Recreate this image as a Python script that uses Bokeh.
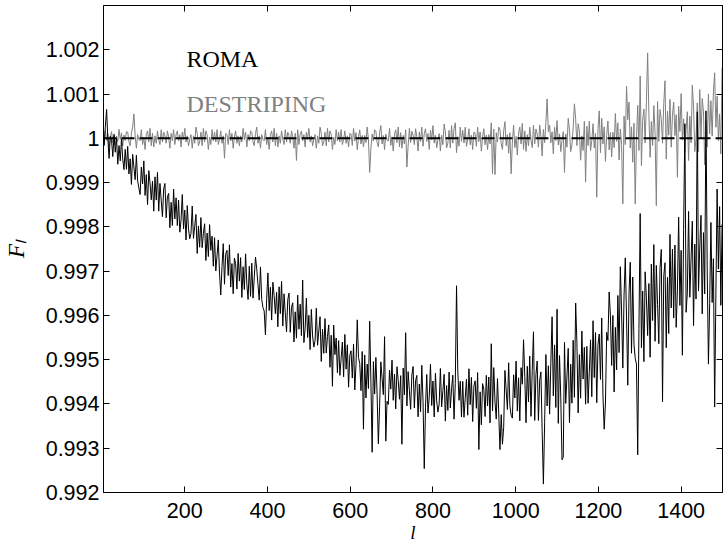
from bokeh.plotting import figure
from bokeh.models import (LinearAxis, FixedTicker, CustomJSTickFormatter, Span,
                          Label, Range1d, ColumnDataSource)
from bokeh.embed import file_html
from bokeh.resources import INLINE

# ---------------- data ----------------
# multipoles sampled every 3
multipole_l = list(range(2, 1501, 3))

# ROMA: deviation of F_l from 1, in parts per million
roma_ppm = [
    210, -161, 273, 650, -14, -455, 49, -42, -413, 91,
    -315, 4, -587, -163, -509, -15, -466, -707, -248, -699,
    -184, -806, -462, -1042, -362, -648, -934, -380, -960, -1120,
    -1270, -650, -1030, -510, -1290, -820, -1500, -730, -1010, -1390,
    -970, -1645, -870, -1395, -770, -1645, -1020, -1395, -1770, -1145,
    -1020, -1795, -1320, -1245, -2020, -1445, -1970, -1145, -1820, -1345,
    -1970, -1395, -2120, -1845, -1270, -2045, -1620, -2295, -1520, -2045,
    -2270, -2150, -1530, -2260, -1990, -1720, -2600, -1980, -2460, -1790,
    -2470, -2150, -1930, -2760, -2140, -2670, -1950, -2530, -2210, -2890,
    -2245, -2995, -2645, -2295, -3045, -3540, -2895, -2380, -3295, -2615,
    -2530, -3100, -2405, -3360, -2830, -3510, -2705, -2835, -3405, -2600,
    -3225, -2695, -3595, -2900, -3415, -2610, -3290, -3640, -2890, -3570,
    -2820, -3610, -3135, -2680, -2955, -3305, -3655, -2905, -3640, -3825,
    -3900, -4440, -3620, -3040, -3890, -3365, -4105, -3250, -3550, -3960,
    -3478, -4257, -3354, -3959, -3230, -4241, -3512, -3943, -4374, -3645,
    -3496, -4381, -3816, -3715, -4600, -3919, -4514, -3543, -4312, -3747,
    -4458, -3200, -4614, -4286, -3610, -4500, -3998, -4772, -3864, -4464,
    -4716, -4567, -3838, -4675, -4352, -4029, -5040, -4311, -4858, -4071,
    -4850, -4474, -4214, -5172, -4448, -5600, -4218, -4886, -4510, -5294,
    -4570, -5354, -4978, -4602, -5386, -4430, -5214, -4664, -5622, -4898,
    -4800, -5415, -4650, -5685, -5100, -4100, -4950, -5085, -5700, -4815,
    -6570, -4893, -5866, -5099, -5652, -4130, -5498, -7090, -5044, -5777,
    -4950, -5800, -6900, -6060, -5050, -5420, -5790, -4480, -6840, -5940,
    -6010, -5237, -5664, -5011, -5918, -5325, -6112, -5159, -5466, -5893,
    -5360, -6910, -5190, -5795, -4390, -6045, -5270, -5695, -6120, -5345,
    -5154, -6089, -5474, -5355, -6290, -5551, -6176, -5127, -5938, -7460,
    -6072, -5333, -6206, -5839, -5100, -6035, -5482, -6293, -5306, -5931,
    -6184, -6001, -5198, -6069, -5700, -5331, -6388, -5585, -6146, -5281,
    -6090, -5658, -5350, -6344, -5540, -3330, -5234, -5918, -5486, -6294,
    -5490, -6301, -5872, -5443, -6254, -5205, -6016, -5401, -6398, -5597,
    -5478, -6098, -5292, -7030, -5726, -6470, -5540, -5664, -6284, -5354,
    -6045, -5391, -6427, -4640, -6159, -5180, -5956, -6342, -5428, -6204,
    -7030, -6242, -6910, -6526, -5243, -5685, -6127, -5069, -6036, -6253,
    -6320, -5343, -5866, -5034, -6162, -5410, -6382, -5181, -5554, -4550,
    -5380, -6424, -5148, -5952, -4916, -6280, -5244, -4370, -6372, -5336,
    -5030, -6372, -5464, -5276, -6618, -7810, -6422, -4884, -6046, -5138,
    -6230, -5079, -4030, -5817, -4666, -6080, -3860, -6438, -4907, -5846,
    -7260, -7200, -4608, -5987, -5366, -4745, -6424, -5103, -5982, -4561,
    -5850, -3720, -4618, -6202, -4886, -5870, -4354, -5438, -4722, -6006,
    -4700, -5984, -5268, -4552, -5836, -4120, -5404, -4388, -5972, -4656,
    -4420, -5446, -4057, -5818, -6570, -5980, -4381, -4567, -3470, -3994,
    -5130, -4000, -5730, -4270, -5230, -3550, -4840, -2900, -3900, -5190,
    -3540, -2700, -4058, -5577, -3496, -2800, -4854, -3133, -4652, -4971,
    -5100, -7150, -4290, -1700, -4730, -3450, -5045, -3015, -3610, -4455,
    -3280, -4945, -2840, -4115, -2400, -4585, -2870, -3755, -4640, -2925,
    -2510, -5950, -3100, -2810, -4730, -3140, -4410, -2170, -3830, -2500,
    -4060, -2410, -4270, -3430, -1780, -3775, -2530, -4900, -2065, 330,
    -3930, -3490, -1650, -3590, -2730, -1870, -4230, -2390, -3630, 600,
    -3450, -2455, -1740, -3965, -2130, -3515, 620, -2925, -5100, -3735,
    -1900, -3709, -2718, -6070, -3536, -1145, -2954, -1543, -3772, -1941,
]

# DESTRIPING: deviation of F_l from 1, in parts per million
destriping_ppm = [
    75, -125, 175, -50, 100, -200, 25, 150, -100, 50,
    -150, 50, -75, 200, -25, 125, -175, 75, -50, 150,
    140, -84, -168, 112, 252, 550, 56, -224, 84, -28,
    -56, 196, -140, 28, -252, 84, 168, -84, 224, -168,
    112, -196, 56, -112, 168, -28, -140, 196, -84, 140,
    56, -112, 168, 28, -224, 112, -56, 196, -140, 84,
    168, -56, 84, -196, 140, -28, 224, -84, 56, -168,
    -28, 84, -224, 56, -112, 252, 112, -168, -84, 140,
    -168, 224, -84, 168, 84, -252, 28, -140, 196, -56,
    140, -84, 196, -140, -28, 168, -112, 56, -450, 112,
    84, -140, 196, -56, 112, -224, 28, 168, -112, 56,
    -168, 56, -84, 224, -28, 140, -196, 84, -56, 168,
    140, -84, -168, 112, 252, -112, 56, -224, 84, -28,
    -56, 196, -140, 28, -252, 84, 168, -84, 224, -168,
    112, -196, 56, -112, 168, -28, -140, 196, -84, 140,
    56, -112, 168, 28, -224, 112, -500, 196, -140, 84,
    168, -56, 84, -196, 140, -28, 224, -84, 56, -168,
    -28, 84, -224, 56, -112, 252, 112, -168, -84, 140,
    -168, 224, -84, 168, 84, -252, 28, -140, 196, -56,
    140, -84, 196, -140, -28, 168, -112, 56, -196, 112,
    96, -160, 224, -64, 128, -256, 32, 192, -128, 64,
    -192, 64, -96, 256, -32, -770, -224, 96, -64, 192,
    160, -96, -192, 128, 288, -128, 64, -256, 96, -32,
    -64, 224, -160, 32, -288, 96, 192, -96, 256, -192,
    128, -224, 64, -128, 192, -650, -160, 224, -96, 160,
    72, -144, 216, 36, -288, 144, -72, 252, -180, 108,
    216, -72, 108, -252, 180, -36, 288, -108, 72, -216,
    -36, 108, -288, 72, -144, 324, 144, -216, -108, 180,
    -216, 288, -108, 216, 350, -324, 36, -180, 252, -72,
    180, -108, 252, -180, -36, 216, -144, 72, -252, 144,
    108, -180, 252, -72, 144, -288, 36, 216, -144, 72,
    -252, 84, -126, 350, -800, 210, -820, 126, -84, 252,
    210, -126, -252, 168, 378, -168, 84, -336, 126, -800,
    -84, 294, -210, 42, -378, 126, 252, -126, 336, -252,
    168, -294, 84, -168, 252, -42, -210, 294, -126, 210,
    100, -200, 300, 50, -400, 200, -100, 350, 890, 150,
    300, -100, 150, -350, 250, -50, 400, -150, 100, -300,
    -50, 150, -770, 100, -200, 450, 200, -300, -150, 250,
    780, 440, -165, 330, 165, -495, 55, -275, 385, -990,
    275, -165, 385, -275, -55, 330, -220, 110, -1330, 220,
    620, -325, 455, -130, 260, -520, 65, 390, -260, 130,
    -420, 140, -210, 560, -70, 350, -490, 210, -140, -1480,
    500, -140, 1180, 420, 820, -220, 260, -540, 340, -1480,
    -20, 745, -275, 1410, -615, 405, 660, -105, 830, 1930,
    560, -430, 380, -160, 740, 110, -1520, 830, -70, 650,
    430, -110, 790, 1300, -470, 610, 70, 880, -200, 520,
    820, 60, 535, -880, 725, 155, 1010, -35, 440, -320,
    200, 600, -500, 500, -100, 1200, 700, -300, 0, 800,
    -300, 1100, 0, 900, 600, -600, 400, -200, 1000, 100,
    850, 50, 1050, 1480, 250, 950, -50, 550, -350, 1590,
]

reference_level = 1.0
x_ticks = [200, 400, 600, 800, 1000, 1200, 1400]
y_ticks = [0.992, 0.993, 0.994, 0.995, 0.996, 0.997, 0.998, 0.999, 1.0, 1.001, 1.002]
series_names = ["ROMA", "DESTRIPING"]

roma = [reference_level + v * 1e-6 for v in roma_ppm]
destriping = [reference_level + v * 1e-6 for v in destriping_ppm]

src = ColumnDataSource(dict(l=multipole_l, roma=roma, destriping=destriping))

# ---------------- figure ----------------
p = figure(width=728, height=545, output_backend="svg", toolbar_location=None,
           x_range=Range1d(3.5, 1500), y_range=Range1d(0.992, 1.003),
           min_border_left=103, min_border_right=6, min_border_top=5,
           min_border_bottom=51)
p.grid.visible = False
p.outline_line_color = "black"
p.outline_line_width = 1
p.background_fill_color = "white"
p.border_fill_color = "white"

TICK_FONT = "Liberation Sans"
SERIF = "Liberation Serif"

def style_axis(ax, ticks):
    ax.ticker = FixedTicker(ticks=ticks)
    ax.axis_line_color = "black"
    ax.axis_line_width = 1
    ax.major_tick_in = 6
    ax.major_tick_out = 0
    ax.major_tick_line_color = "black"
    ax.minor_tick_line_color = None
    ax.major_label_text_font = TICK_FONT
    ax.major_label_text_font_size = "21.5px"
    ax.major_label_text_color = "black"

xa = p.xaxis[0]
style_axis(xa, x_ticks)
xa.major_label_standoff = 10
xa.axis_label = "l"
xa.axis_label_text_font = SERIF
xa.axis_label_text_font_style = "italic"
xa.axis_label_text_font_size = "19px"
xa.axis_label_text_color = "black"
xa.axis_label_standoff = 1

ya = p.yaxis[0]
style_axis(ya, y_ticks)
ya.major_label_standoff = 4
ya.formatter = CustomJSTickFormatter(
    code="return parseFloat(tick.toFixed(3)).toString();")
ya.axis_label = "F\u2097"
ya.axis_label_text_font = SERIF
ya.axis_label_text_font_style = "italic"
ya.axis_label_text_font_size = "23px"
ya.axis_label_text_color = "black"
ya.axis_label_standoff = 14

blank = "return '';"
top_ax = LinearAxis()
style_axis(top_ax, x_ticks)
top_ax.formatter = CustomJSTickFormatter(code=blank)
top_ax.major_label_text_font_size = "1px"
top_ax.major_label_standoff = 0
p.add_layout(top_ax, "above")

right_ax = LinearAxis()
style_axis(right_ax, y_ticks)
right_ax.formatter = CustomJSTickFormatter(code=blank)
right_ax.major_label_text_font_size = "1px"
right_ax.major_label_standoff = 0
p.add_layout(right_ax, "right")

# ---------------- series ----------------
p.line("l", "destriping", source=src, line_color="#808080", line_width=1)
p.line("l", "roma", source=src, line_color="black", line_width=1)

p.add_layout(Span(location=reference_level, dimension="width",
                  line_color="black", line_width=2, line_dash="13 5"))

# ---------------- texts ----------------
p.add_layout(Label(x=204, y=1.001792, text=series_names[0],
                   text_font=SERIF, text_font_size="24px",
                   text_color="black", text_baseline="alphabetic"))
p.add_layout(Label(x=204, y=1.000778, text=series_names[1],
                   text_font=SERIF, text_font_size="24px",
                   text_color="#808080", text_baseline="alphabetic"))

open("out.html", "w").write(file_html(p, INLINE))
